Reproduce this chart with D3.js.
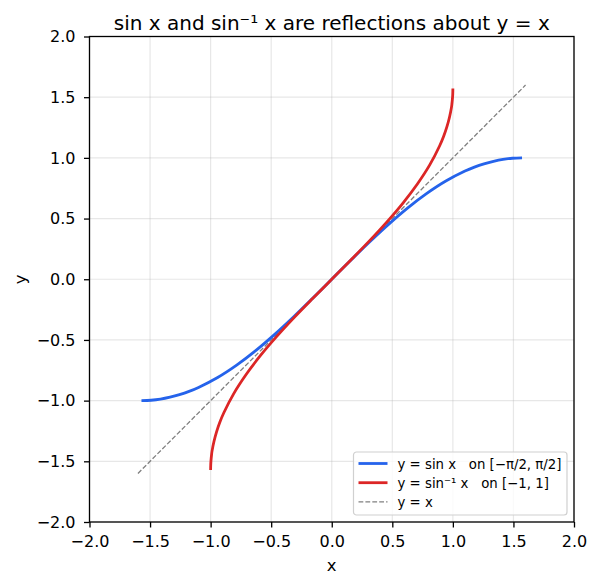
<!DOCTYPE html>
<html>
<head>
<meta charset="utf-8">
<script src="https://cdn.jsdelivr.net/npm/d3@7"></script>
<style>
  body { margin: 0; background: #fff; }
  svg text { font-family: "DejaVu Sans", sans-serif; fill: #000; }
</style>
</head>
<body>
<svg id="chart" width="599" height="588"></svg>
<script>
// sin x sampled on [-pi/2, pi/2]
const sinX = [-1.571, -1.492, -1.414, -1.335, -1.257, -1.178, -1.100, -0.942, -0.785, -0.628, -0.471, -0.314, -0.157,
  0.000, 0.157, 0.314, 0.471, 0.628, 0.785, 0.942, 1.100, 1.178, 1.257, 1.335, 1.414, 1.492, 1.571];
const sinY = [-1.000, -0.997, -0.988, -0.972, -0.951, -0.924, -0.891, -0.809, -0.707, -0.588, -0.454, -0.309, -0.156,
  0.000, 0.156, 0.309, 0.454, 0.588, 0.707, 0.809, 0.891, 0.924, 0.951, 0.972, 0.988, 0.997, 1.000];
// arcsin x sampled on [-1, 1]
const asinX = [-1.000, -0.999, -0.997, -0.992, -0.988, -0.972, -0.951, -0.924, -0.891, -0.809, -0.707, -0.588, -0.454, -0.309, -0.156,
  0.000, 0.156, 0.309, 0.454, 0.588, 0.707, 0.809, 0.891, 0.924, 0.951, 0.972, 0.988, 0.992, 0.997, 0.999, 1.000];
const asinY = [-1.571, -1.526, -1.494, -1.444, -1.414, -1.335, -1.257, -1.178, -1.100, -0.942, -0.785, -0.628, -0.471, -0.314, -0.157,
  0.000, 0.157, 0.314, 0.471, 0.628, 0.785, 0.942, 1.100, 1.178, 1.257, 1.335, 1.414, 1.444, 1.494, 1.526, 1.571];
// y = x reference
const diagX = [-1.6, 1.6];
const diagY = [-1.6, 1.6];

const ticks = [-2.0, -1.5, -1.0, -0.5, 0.0, 0.5, 1.0, 1.5, 2.0];
const legendLabels = ["y = sin x   on [\u2212\u03c0/2, \u03c0/2]", "y = sin\u207b\u00b9 x   on [\u22121, 1]", "y = x"];

const svg = d3.select('#chart');
const box = {left: 89.5, right: 574, top: 36.5, bottom: 522};

const xScale = d3.scaleLinear().domain([-2, 2]).range([box.left, box.right]);
const yScale = d3.scaleLinear().domain([-2, 2]).range([box.bottom, box.top]);
const fmt = d => d3.format('.1f')(d).replace('-', '\u2212');

// grid
ticks.forEach(t => {
  svg.append('line')
     .attr('x1', xScale(t)).attr('x2', xScale(t))
     .attr('y1', box.top).attr('y2', box.bottom)
     .attr('stroke', '#b0b0b0').attr('stroke-opacity', 0.3).attr('stroke-width', 1.2);
  svg.append('line')
     .attr('x1', box.left).attr('x2', box.right)
     .attr('y1', yScale(t)).attr('y2', yScale(t))
     .attr('stroke', '#b0b0b0').attr('stroke-opacity', 0.3).attr('stroke-width', 1.2);
});

svg.append('clipPath').attr('id', 'clip')
  .append('rect').attr('x', box.left).attr('y', box.top)
  .attr('width', box.right - box.left).attr('height', box.bottom - box.top);

const line = d3.line()
  .x(d => xScale(d[0]))
  .y(d => yScale(d[1]))
  .curve(d3.curveCatmullRom);

const plot = svg.append('g').attr('clip-path', 'url(#clip)');

plot.append('path')
   .attr('d', line(diagX.map((x, i) => [x, diagY[i]])))
   .attr('fill', 'none')
   .attr('stroke', 'gray')
   .attr('stroke-width', 1.3)
   .attr('stroke-dasharray', '4.8,2.1');

plot.append('path')
   .attr('d', line(sinX.map((x, i) => [x, sinY[i]])))
   .attr('fill', 'none')
   .attr('stroke', '#2563eb')
   .attr('stroke-width', 2.8);

plot.append('path')
   .attr('d', line(asinX.map((x, i) => [x, asinY[i]])))
   .attr('fill', 'none')
   .attr('stroke', '#dc2626')
   .attr('stroke-width', 2.8);

// axes
const xAxis = svg.append('g')
  .attr('transform', `translate(0,${box.bottom})`)
  .call(d3.axisBottom(xScale).tickValues(ticks).tickFormat(fmt).tickSize(5.5).tickPadding(8.5));
const yAxis = svg.append('g')
  .attr('transform', `translate(${box.left},0)`)
  .call(d3.axisLeft(yScale).tickValues(ticks).tickFormat(fmt).tickSize(5.5).tickPadding(8.5));
[xAxis, yAxis].forEach(a => {
  a.select('.domain').remove();
  a.selectAll('line').attr('stroke', '#000').attr('stroke-width', 1.3);
  a.selectAll('text').attr('font-size', '16px').attr('font-family', 'DejaVu Sans');
});

svg.append('rect')
   .attr('x', box.left).attr('y', box.top)
   .attr('width', box.right - box.left).attr('height', box.bottom - box.top)
   .attr('fill', 'none').attr('stroke', '#000').attr('stroke-width', 1.3);

// labels
svg.append('text')
   .attr('x', (box.left + box.right) / 2).attr('y', 30)
   .attr('text-anchor', 'middle').attr('font-size', '20px')
   .text('sin x and sin\u207b\u00b9 x are reflections about y = x');
svg.append('text')
   .attr('x', (box.left + box.right) / 2).attr('y', 571)
   .attr('text-anchor', 'middle').attr('font-size', '16.5px')
   .text('x');
svg.append('text')
   .attr('transform', `translate(25.5,${(box.top + box.bottom) / 2}) rotate(-90)`)
   .attr('text-anchor', 'middle').attr('font-size', '16.5px')
   .text('y');

// legend
const legend = svg.append('g').attr('transform', 'translate(353.5,452)');
legend.append('rect')
   .attr('width', 213.5).attr('height', 63).attr('rx', 3)
   .attr('fill', '#fff').attr('fill-opacity', 0.8)
   .attr('stroke', '#d0d0d0').attr('stroke-width', 1.2);
const legStyles = [
  {color: '#2563eb', width: 2.8, dash: null},
  {color: '#dc2626', width: 2.8, dash: null},
  {color: 'gray', width: 1.3, dash: '4.8,2.1'}
];
legendLabels.forEach((lab, i) => {
  const y = 11.5 + i * 19.2;
  legend.append('line')
     .attr('x1', 5).attr('x2', 34).attr('y1', y).attr('y2', y)
     .attr('stroke', legStyles[i].color)
     .attr('stroke-width', legStyles[i].width)
     .attr('stroke-dasharray', legStyles[i].dash);
  legend.append('text')
     .attr('x', 44).attr('y', y + 5)
     .attr('font-size', '13.3px')
     .style('white-space', 'pre')
     .text(lab);
});
</script>
</body>
</html>
